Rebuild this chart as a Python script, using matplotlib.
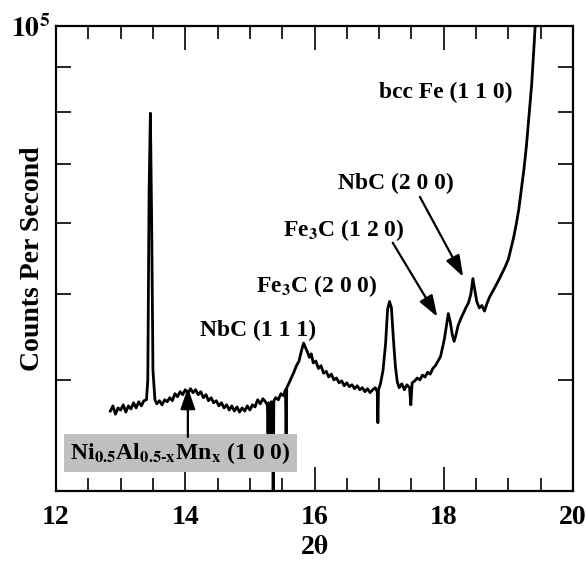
import numpy as np
import matplotlib
matplotlib.use('Agg')
import matplotlib.pyplot as plt

plt.rcParams['font.family'] = 'Liberation Serif'
plt.rcParams['font.weight'] = 'bold'
plt.rcParams['mathtext.fontset'] = 'stix'
plt.rcParams['mathtext.default'] = 'bf'

# 2theta (deg) and counts per second
two_theta = [12.84, 12.88, 12.92, 12.96, 13.00, 13.04, 13.08, 13.12, 13.16, 13.20,
             13.24, 13.28, 13.32, 13.36, 13.40, 13.42, 13.44, 13.46, 13.48, 13.50,
             13.53, 13.56, 13.60, 13.64, 13.68, 13.72, 13.76, 13.80, 13.84, 13.88,
             13.92, 13.96, 14.00, 14.04, 14.08, 14.12, 14.16, 14.20, 14.24, 14.28,
             14.32, 14.36, 14.40, 14.44, 14.48, 14.52, 14.56, 14.60, 14.64, 14.68,
             14.72, 14.76, 14.80, 14.84, 14.88, 14.92, 14.96, 15.00, 15.04, 15.08,
             15.12, 15.16, 15.20, 15.24, 15.27, 15.28, 15.29, 15.31, 15.32, 15.33,
             15.35, 15.36, 15.37, 15.40, 15.44, 15.48, 15.52, 15.55, 15.56, 15.57,
             15.60, 15.64, 15.68, 15.72, 15.76, 15.80, 15.83, 15.86, 15.89, 15.92,
             15.95, 15.98, 16.02, 16.06, 16.10, 16.14, 16.18, 16.22, 16.26, 16.30,
             16.34, 16.38, 16.42, 16.46, 16.50, 16.54, 16.58, 16.62, 16.66, 16.70,
             16.74, 16.78, 16.82, 16.86, 16.90, 16.94, 16.97, 16.98, 16.99, 17.02,
             17.06, 17.10, 17.13, 17.16, 17.19, 17.22, 17.25, 17.28, 17.31, 17.35,
             17.39, 17.43, 17.47, 17.49, 17.51, 17.55, 17.59, 17.63, 17.67, 17.71,
             17.75, 17.79, 17.83, 17.87, 17.91, 17.95, 17.98, 18.01, 18.04, 18.07,
             18.10, 18.13, 18.16, 18.19, 18.22, 18.26, 18.30, 18.34, 18.38, 18.42,
             18.45, 18.48, 18.51, 18.55, 18.59, 18.63, 18.67, 18.71, 18.75, 18.80,
             18.85, 18.90, 18.95, 19.00, 19.04, 19.08, 19.12, 19.16, 19.20, 19.24,
             19.28, 19.32, 19.36, 19.40, 19.43]
counts = [3.69, 3.74, 3.66, 3.72, 3.70, 3.75, 3.68, 3.74, 3.71, 3.77,
          3.72, 3.78, 3.74, 3.79, 3.80, 4.00, 6.50, 7.98, 6.00, 4.10,
          3.80, 3.76, 3.79, 3.75, 3.80, 3.78, 3.82, 3.79, 3.86, 3.83,
          3.88, 3.85, 3.90, 3.86, 3.91, 3.87, 3.90, 3.85, 3.88, 3.82,
          3.85, 3.79, 3.82, 3.77, 3.79, 3.74, 3.77, 3.72, 3.75, 3.70,
          3.74, 3.69, 3.73, 3.68, 3.72, 3.69, 3.74, 3.70, 3.75, 3.73,
          3.80, 3.76, 3.81, 3.78, 3.75, 3.48, 3.77, 3.74, 3.45, 3.78,
          3.75, 2.90, 3.79, 3.82, 3.80, 3.86, 3.84, 3.90, 3.45, 3.92,
          3.96, 4.02, 4.08, 4.15, 4.20, 4.32, 4.40, 4.35, 4.30, 4.24,
          4.28, 4.18, 4.20, 4.12, 4.15, 4.07, 4.09, 4.03, 4.06, 4.00,
          4.02, 3.97, 3.99, 3.94, 3.97, 3.93, 3.95, 3.91, 3.94, 3.90,
          3.92, 3.88, 3.91, 3.87, 3.90, 3.92, 3.88, 3.58, 3.90, 3.96,
          4.10, 4.40, 4.80, 4.90, 4.82, 4.45, 4.15, 3.98, 3.92, 3.96,
          3.90, 3.95, 3.92, 3.75, 3.97, 3.99, 4.02, 4.00, 4.05, 4.03,
          4.08, 4.06, 4.12, 4.15, 4.20, 4.25, 4.35, 4.45, 4.60, 4.75,
          4.65, 4.50, 4.42, 4.50, 4.60, 4.68, 4.75, 4.82, 4.88, 5.00,
          5.20, 5.05, 4.90, 4.82, 4.85, 4.78, 4.88, 4.96, 5.02, 5.10,
          5.18, 5.27, 5.36, 5.47, 5.62, 5.78, 5.98, 6.22, 6.55, 6.90,
          7.35, 7.95, 8.60, 9.60, 10.5]
counts = np.array(counts) * 1e4

fig = plt.figure(figsize=(5.86, 5.62), dpi=100)
ax = fig.add_axes([0.0956, 0.1263, 0.8823, 0.8274])

ax.plot(two_theta, counts, color='black', lw=2.0)

ax.set_yscale('log')
ax.set_xlim(12, 20)
ax.set_ylim(3e4, 1e5)

ax.set_xticks([12, 14, 16, 18, 20])
ax.set_xticks(np.arange(12, 20.01, 0.5), minor=True)
ax.set_yticks([1e5])
ax.set_yticklabels([r'$\mathbf{10^5}$'])
ax.set_yticks([4e4, 5e4, 6e4, 7e4, 8e4, 9e4], minor=True)
ax.yaxis.set_minor_formatter(matplotlib.ticker.NullFormatter())

ax.tick_params(which='both', direction='in', top=True, right=True, width=1.2,
               labelsize=20, pad=10)
ax.tick_params(axis='x', which='major', length=17)
ax.tick_params(axis='x', which='minor', length=9.5)
ax.tick_params(axis='y', which='minor', length=11)
ax.tick_params(axis='y', which='major', length=11, pad=4)
for s in ax.spines.values():
    s.set_linewidth(1.6)

ax.set_xlabel(r'2$\mathbf{\theta}$', fontsize=20, fontweight='bold', labelpad=4)
ax.set_ylabel('Counts Per Second', fontsize=20, fontweight='bold')
ax.yaxis.set_label_coords(-0.022, 0.5)

fs = 17
ax.text(17.0, 8.41e4, 'bcc Fe (1 1 0)', fontsize=fs, va='center')
ax.text(16.36, 6.66e4, 'NbC (2 0 0)', fontsize=fs, va='center')
ax.text(15.51, 5.90e4, r'Fe$_3$C (1 2 0)', fontsize=fs, va='center')
ax.text(15.09, 5.10e4, r'Fe$_3$C (2 0 0)', fontsize=fs, va='center')
ax.text(14.23, 4.55e4, 'NbC (1 1 1)', fontsize=fs, va='center')
ax.text(12.22, 3.313e4, r'Ni$_{0.5}$Al$_{0.5\text{-}x}$Mn$_x$ (1 0 0)', fontsize=fs,
        va='center', bbox=dict(boxstyle='square,pad=0.25', facecolor='#bfbfbf', edgecolor='none'))

arrow = dict(arrowstyle='-|>,head_length=1.3,head_width=0.45', lw=1.6, color='black',
             shrinkA=0, shrinkB=0)
ax.annotate('', xy=(18.30, 5.224e4), xytext=(17.63, 6.426e4), arrowprops=arrow)
ax.annotate('', xy=(17.90, 4.71e4), xytext=(17.21, 5.705e4), arrowprops=arrow)
ax.annotate('', xy=(14.04, 3.92e4), xytext=(14.04, 3.452e4), arrowprops=arrow)

fig.savefig('out.png', dpi=100)
